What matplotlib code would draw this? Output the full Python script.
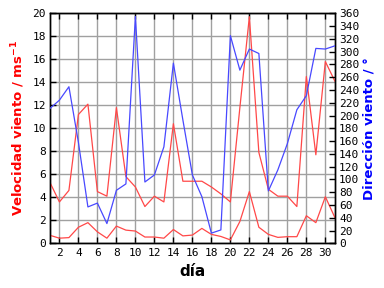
import matplotlib
matplotlib.use('Agg')
import matplotlib.pyplot as plt

plt.rcParams['font.family'] = ['DejaVu Sans']
plt.rcParams['mathtext.default'] = 'bf'

# días del mes
dias = list(range(1, 32))

# velocidad máxima del viento (m/s)
vel_max = [5.3, 3.6, 4.6, 11.2, 12.1, 4.5, 4.1, 11.8, 5.8, 4.9,
           3.2, 4.1, 3.6, 10.4, 5.4, 5.4, 5.4, 4.9, 4.3, 3.6,
           11.8, 19.7, 7.9, 4.7, 4.1, 4.1, 3.2, 14.5, 7.7, 15.8, 14.1]

# velocidad media del viento (m/s)
vel_media = [0.7, 0.45, 0.5, 1.4, 1.8, 1.0, 0.45, 1.5, 1.15, 1.07,
             0.55, 0.55, 0.45, 1.2, 0.65, 0.72, 1.3, 0.78, 0.6, 0.3,
             1.9, 4.5, 1.4, 0.78, 0.52, 0.58, 0.58, 2.4, 1.8, 4.05, 2.25]

# dirección del viento (grados)
direccion = [211, 224, 245, 158, 57, 63, 31, 83, 93, 355,
             96, 107, 151, 282, 193, 107, 73, 16, 21, 325,
             271, 304, 297, 82, 115, 156, 209, 231, 305, 304, 309]

fig = plt.figure(figsize=(3.84, 2.88), dpi=100)
ax = fig.add_axes([0.13, 0.155, 0.742, 0.799])
ax2 = ax.twinx()

ax.plot(dias, vel_max, color='#ff4848', lw=0.9, zorder=3)
ax.plot(dias, vel_media, color='#ff4848', lw=0.9, zorder=3)
ax2.plot(dias, direccion, color='#4848ff', lw=0.9, zorder=3)

ax.set_xlim(1, 31)
ax.set_ylim(0, 20)
ax2.set_ylim(0, 360)
ax.set_xticks(range(2, 31, 2))
ax.set_yticks(range(0, 21, 2))
ax2.set_yticks(range(0, 361, 20))

ax.grid(True, color='#a0a0a0', lw=1)
ax.set_axisbelow(True)

for a in (ax, ax2):
    a.tick_params(direction='in', length=4, width=1, labelsize=8,
                  top=True, pad=3)
    for lab in a.get_xticklabels() + a.get_yticklabels():
        lab.set_family('DejaVu Sans Mono')
    for s in a.spines.values():
        s.set_linewidth(1)

ax.set_xlabel('día', fontsize=11, weight='bold', labelpad=5)
ax.set_ylabel('Velocidad viento / ms$^{-1}$', fontsize=9.5, weight='bold',
              color='red', labelpad=4)
ax2.set_ylabel('Dirección viento / °', fontsize=9.5, weight='bold',
               color='blue', labelpad=2)

fig.savefig('out.png', dpi=100)
